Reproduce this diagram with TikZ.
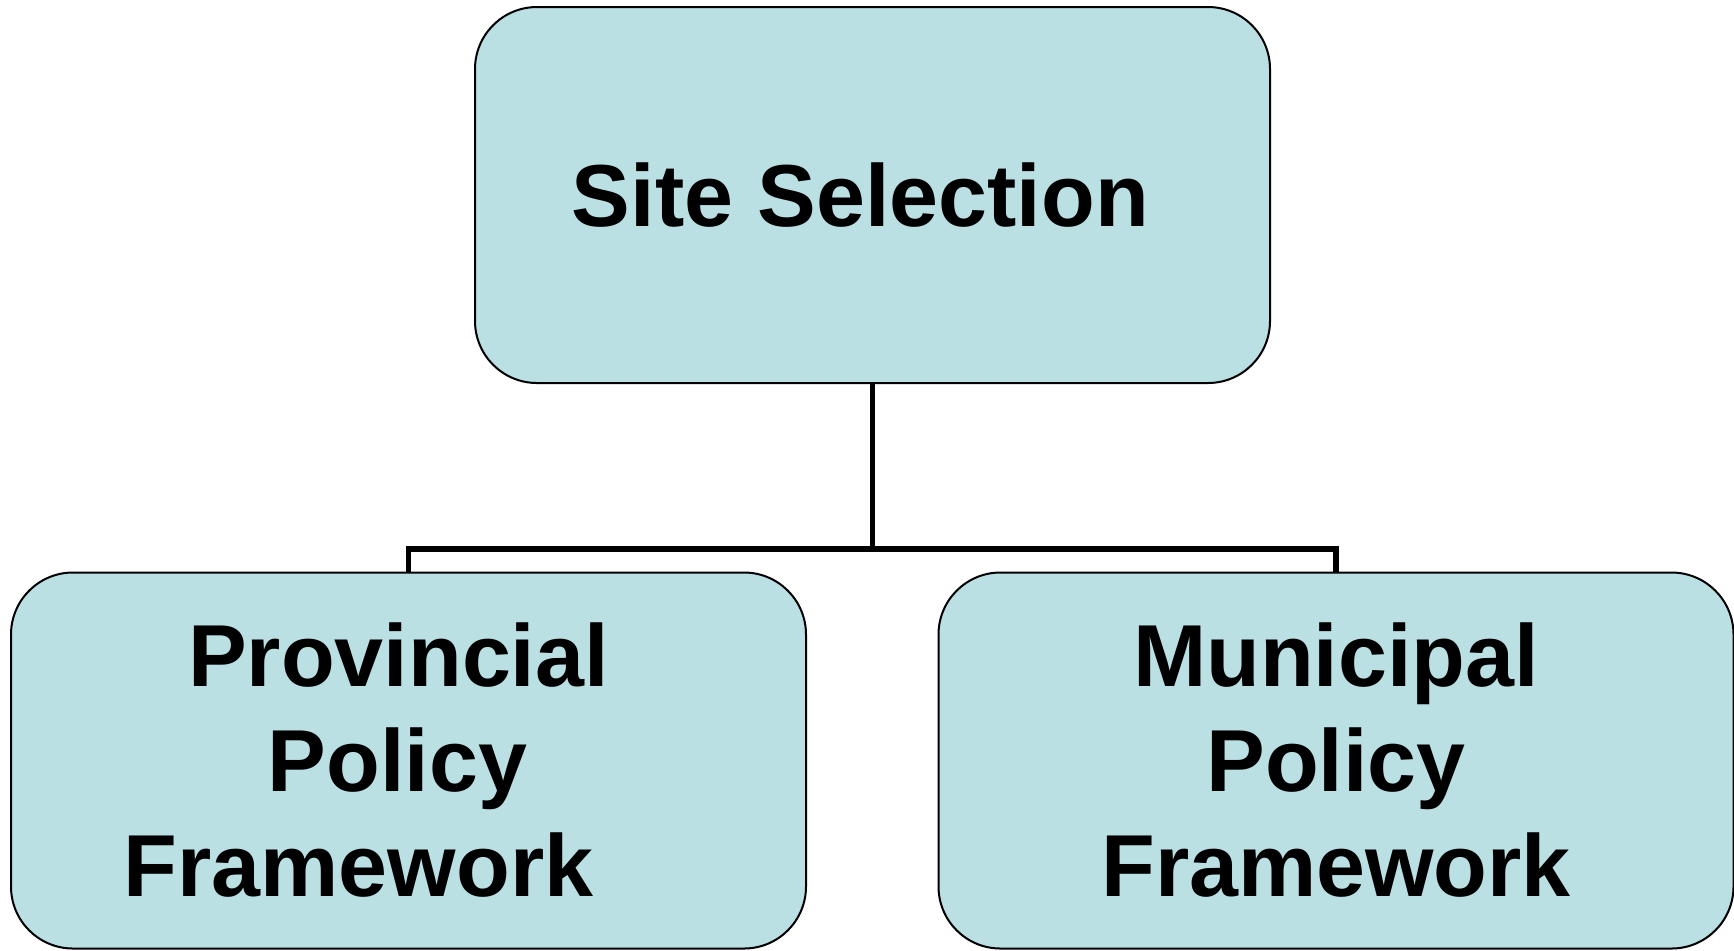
\documentclass[tikz,border=0pt]{standalone}
\usepackage{fontspec}
\setmainfont{Liberation Sans}
\definecolor{boxfill}{RGB}{186,224,228}
\newcommand{\trail}[1]{\hbox to #1{}}
\begin{document}
\begin{tikzpicture}[x=0.5pt,y=-0.5pt,
  box/.style={draw=black, line width=1pt, fill=boxfill, rounded corners=31pt,
    minimum width=397.5pt, minimum height=188pt, inner sep=0pt, align=center,
    font=\fontsize{44pt}{52.5pt}\selectfont\bfseries},
  link/.style={draw=black, line width=2.8pt}]
\useasboundingbox (0,0) rectangle (1734,950);
\node[box] (top) at (872.5,195) {Site Selection\trail{12pt}};
\node[box] (left) at (408.5,760.5) {Provincial\trail{10pt}\\Policy\trail{11pt}\\Framework\trail{50pt}};
\node[box] (right) at (1336,760.5) {Municipal\\Policy\\Framework};
\coordinate (j) at (872.5,549);
\draw[link] (top.south) -- (j);
\draw[link] (left.north) |- (j) -| (right.north);
\end{tikzpicture}
\end{document}
